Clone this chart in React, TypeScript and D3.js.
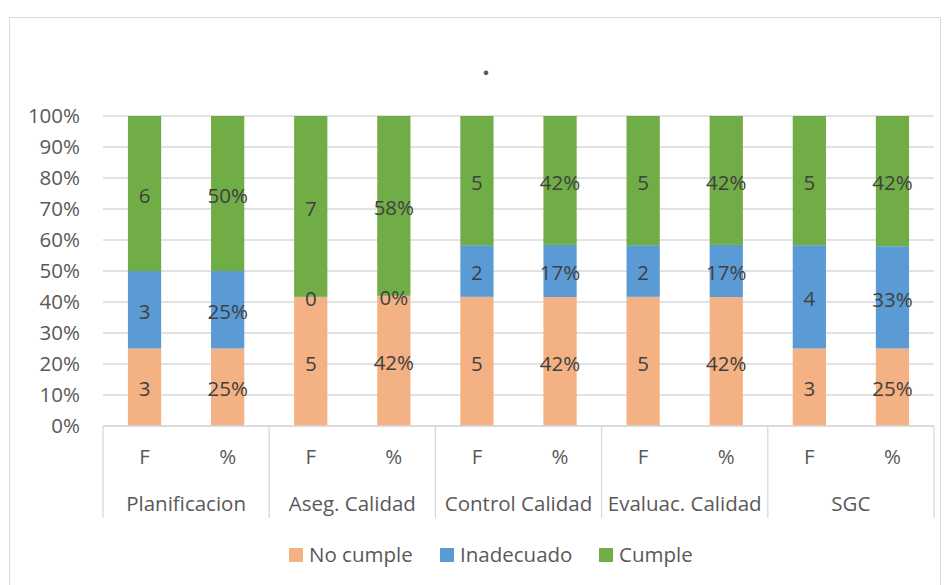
import React from 'react';
import * as d3 from 'd3';

const groups = ['Planificacion', 'Aseg. Calidad', 'Control Calidad', 'Evaluac. Calidad', 'SGC'];
const subLabels = ['F', '%'];
const series = ['No cumple', 'Inadecuado', 'Cumple'];
const colors = ['#F4B183', '#5B9BD5', '#70AD47'];

// one entry per bar (group x sub), order follows series
const noCumple = [3, 25, 5, 42, 5, 42, 5, 42, 3, 25];
const inadecuado = [3, 25, 0, 0, 2, 17, 2, 17, 4, 33];
const cumple = [6, 50, 7, 58, 5, 42, 5, 42, 5, 42];
const yTicks = [0, 10, 20, 30, 40, 50, 60, 70, 80, 90, 100];

const W = 949;
const H = 585;
const font = "'Open Sans', sans-serif";
const fs = 20.5;
const margin = { left: 103, right: 15, top: 116, bottom: 158 };

export default function App() {
  const bars = groups.flatMap((g, gi) => subLabels.map((s, si) => ({ g, s, i: gi * 2 + si })));
  const plotW = W - margin.left - margin.right;
  const x = d3.scaleBand<number>().domain(bars.map(b => b.i)).range([margin.left, margin.left + plotW]).paddingInner(0.6).paddingOuter(0.3);
  const step = plotW / bars.length;
  const y = d3.scaleLinear().domain([0, 100]).range([426, margin.top]);

  const vals = [noCumple, inadecuado, cumple];
  const rows = bars.map(b => {
    const v = vals.map(a => a[b.i]);
    const total = d3.sum(v);
    const obj: any = { i: b.i };
    series.forEach((s, k) => (obj[s] = (v[k] / total) * 100));
    return obj;
  });
  const stack = d3.stack<any>().keys(series)(rows);

  const axisY = y(0);
  const axisBottom = axisY + 92;

  const legendX = [289, 440, 599];

  return (
    <svg width={W} height={H} style={{ position: 'absolute', left: 0, top: 0, fontFamily: font }}>
      <rect x={9.5} y={17.5} width={931} height={600} fill="#fff" stroke="#D9D9D9" />
      <text x={486} y={75} textAnchor="middle" fontSize={26} fontWeight="bold" fill="#595959">.</text>
      {yTicks.map(t => (
        <g key={t}>
          <line x1={margin.left} x2={margin.left + plotW} y1={y(t)} y2={y(t)} stroke="#D9D9D9" strokeWidth={1.3} />
          <text x={80} y={y(t)} dy="0.35em" textAnchor="end" fontSize={fs} fill="#595959">{t}%</text>
        </g>
      ))}
      {stack.map((layer, k) => (
        <g key={layer.key} fill={colors[k]}>
          {layer.map((d, j) => (
            <rect key={j} x={x(rows[j].i)} y={y(d[1])} width={x.bandwidth()} height={y(d[0]) - y(d[1])} />
          ))}
        </g>
      ))}
      {stack.map((layer, k) => (
        <g key={layer.key + 'l'}>
          {layer.map((d, j) => {
            const b = bars[j];
            const v = vals[k][b.i];
            return (
              <text key={j} x={x(b.i)! + x.bandwidth() / 2} y={y((d[0] + d[1]) / 2) + 2} dy="0.35em" textAnchor="middle" fontSize={fs} fill="#404040">
                {b.s === '%' ? `${v}%` : v}
              </text>
            );
          })}
        </g>
      ))}
      <line x1={margin.left} x2={margin.left + plotW} y1={axisY} y2={axisY} stroke="#D9D9D9" strokeWidth={1.3} />
      {d3.range(groups.length + 1).map(g => (
        <line key={g} x1={margin.left + g * step * 2} x2={margin.left + g * step * 2} y1={axisY} y2={axisBottom} stroke="#D9D9D9" strokeWidth={1.3} />
      ))}
      {bars.map(b => (
        <text key={b.i} x={x(b.i)! + x.bandwidth() / 2} y={457} dy="0.35em" textAnchor="middle" fontSize={fs} fill="#595959">{b.s}</text>
      ))}
      {groups.map((g, gi) => (
        <text key={g} x={margin.left + (gi + 0.5) * step * 2} y={504} dy="0.35em" textAnchor="middle" fontSize={fs} fill="#595959">{g}</text>
      ))}
      {series.map((s, k) => (
        <g key={s} transform={`translate(${legendX[k]},555)`}>
          <rect x={0} y={-7} width={14} height={14} fill={colors[k]} />
          <text x={20} y={0} dy="0.35em" fontSize={fs} fill="#595959">{s}</text>
        </g>
      ))}
    </svg>
  );
}
